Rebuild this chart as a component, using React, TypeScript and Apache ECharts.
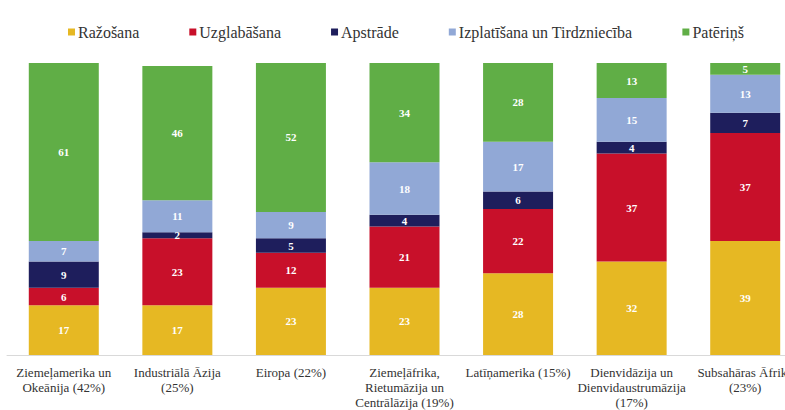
import React, { useEffect, useRef } from "react";
import * as echarts from "echarts";

const categories = [
  "Ziemeļamerika un\nOkeānija (42%)",
  "Industriālā Āzija\n(25%)",
  "Eiropa (22%)",
  "Ziemeļāfrika,\nRietumāzija un\nCentrālāzija (19%)",
  "Latīņamerika (15%)",
  "Dienvidāzija un\nDienvidaustrumāzija\n(17%)",
  "Subsahāras Āfrika\n(23%)",
];
const seriesNames = ["Ražošana", "Uzglabāšana", "Apstrāde", "Izplatīšana un Tirdzniecība", "Patēriņš"];
const razosana = [17, 17, 23, 23, 28, 32, 39];
const uzglabasana = [6, 23, 12, 21, 22, 37, 37];
const apstrade = [9, 2, 5, 4, 6, 4, 7];
const izplatisana = [7, 11, 9, 18, 17, 15, 13];
const paterins = [61, 46, 52, 34, 28, 13, 5];
const colors = ["#E6B823", "#C8102A", "#1E1E5C", "#91A8D6", "#60AE46"];

export default function App() {
  const ref = useRef<HTMLDivElement>(null);
  useEffect(() => {
    if (!ref.current) return;
    const chart = echarts.init(ref.current, null, { renderer: "svg" });
    const values = [razosana, uzglabasana, apstrade, izplatisana, paterins];
    const font = "Liberation Serif";
    chart.setOption({
      animation: false,
      textStyle: { fontFamily: font },
      legend: {
        top: 19,
        left: 63,
        itemWidth: 7,
        itemHeight: 7,
        itemGap: 50,
        icon: "rect",
        textStyle: { fontFamily: font, fontSize: 16, color: "#333", padding: [0, 0, 0, -2] },
        data: seriesNames,
      },
      grid: { left: 7, right: 8, top: 63, bottom: 54, containLabel: false },
      xAxis: {
        type: "category",
        data: categories,
        axisLine: { lineStyle: { color: "#D9D9D9" } },
        axisTick: { show: false },
        axisLabel: {
          interval: 0,
          margin: 10,
          fontFamily: font,
          fontSize: 13,
          lineHeight: 15,
          color: "#333",
        },
      },
      yAxis: { type: "value", min: 0, max: 100, show: false },
      series: seriesNames.map((name, i) => ({
        name,
        type: "bar",
        stack: "total",
        barWidth: 70,
        clip: true,
        data: values[i],
        itemStyle: { color: colors[i] },
        label: {
          show: true,
          position: "inside",
          color: "#fff",
          fontFamily: font,
          fontWeight: "bold",
          fontSize: 11,
        },
      })),
    });
    return () => chart.dispose();
  }, []);
  return (
    <div style={{ position: "absolute", left: 0, top: 0, width: 785, height: 410, overflow: "hidden" }}>
      <div ref={ref} style={{ width: 810, height: 410 }} />
    </div>
  );
}
